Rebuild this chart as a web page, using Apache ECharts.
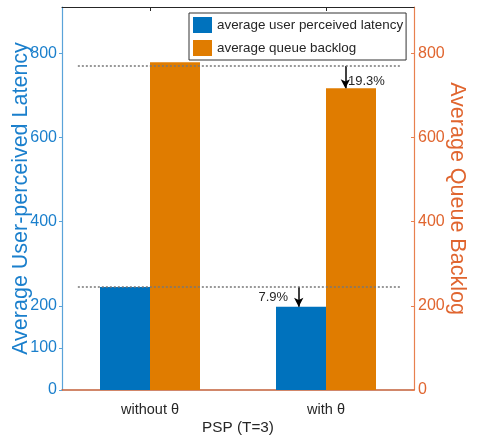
<!DOCTYPE html>
<html><head><meta charset="utf-8">
<script src="https://cdn.jsdelivr.net/npm/echarts@6/dist/echarts.min.js"></script>
<style>html,body{margin:0;padding:0;background:#fff}#c{width:479px;height:439px}</style>
</head><body><div id="c"></div>
<script>
// ---- data ----
const categories = ['without θ', 'with θ'];
const seriesNames = ['average user perceived latency', 'average queue backlog'];
const latency = [245, 198];
const backlog = [779, 717];
const leftTicks = [0, 100, 200, 400, 600, 800];
const rightTicks = [0, 200, 400, 600, 800];
const axisMax = 910;
// reference (dotted) levels and their span in category units
const refLatency = 245;
const refBacklog = 770;
const refSpan = [-0.41, 1.42];
// reduction arrows: [x in category units, from, to]
const arrowLatency = [0.845, 245, 198];
const arrowBacklog = [1.11, 770, 717];
// annotation labels: [x, y, text]
const noteLatency = [0.785, 219, '7.9%'];
const noteBacklog = [1.125, 732, '19.3%'];

const FONT = '"Liberation Sans", Arial, Helvetica, sans-serif';
const BLUE = '#0072BD', ORANGE = '#E07C00';
const BLUE_TXT = '#1a7fcc', ORANGE_TXT = '#e0652f';

const chart = echarts.init(document.getElementById('c'), null, {renderer: 'canvas'});
chart.setOption({
  backgroundColor: '#fff',
  animation: false,
  textStyle: {fontFamily: FONT},
  grid: {left: 62, right: 65, top: 7, bottom: 49, containLabel: false, outerBoundsMode: 'none'},
  legend: {
    data: seriesNames, orient: 'vertical', left: 189, top: 13,
    itemWidth: 19, itemHeight: 16, itemGap: 7, icon: 'rect',
    padding: [4, 3, 4, 4],
    borderColor: '#333', borderWidth: 1, backgroundColor: '#fff',
    textStyle: {fontSize: 13.4, color: '#262626', fontFamily: FONT}
  },
  xAxis: [
    {type: 'category', data: categories, position: 'bottom',
     axisLine: {onZero: false, lineStyle: {color: '#c2603a', width: 1.5}},
     axisTick: {show: false},
     axisLabel: {fontSize: 14.5, color: '#262626', margin: 12, fontFamily: FONT},
     name: 'PSP (T=3)', nameLocation: 'middle', nameGap: 30.5, nameMoveOverlap: false,
     nameTextStyle: {fontSize: 15.3, color: '#262626', fontFamily: FONT}},
    {type: 'category', data: categories, position: 'top',
     axisLine: {onZero: false, lineStyle: {color: '#262626', width: 1}},
     axisTick: {show: true, inside: true, length: 4, alignWithLabel: true, lineStyle: {color: '#262626'}},
     axisLabel: {show: false}},
    {type: 'value', min: -0.5, max: 1.5, show: false}
  ],
  yAxis: [
    {type: 'value', position: 'left', min: 0, max: axisMax,
     axisLine: {show: true, onZero: false, lineStyle: {color: '#5aa3d9', width: 1.2}},
     axisTick: {show: true, customValues: leftTicks, length: 3, lineStyle: {color: '#5aa3d9'}},
     axisLabel: {customValues: leftTicks, fontSize: 16, color: BLUE_TXT, margin: 5, fontFamily: FONT},
     splitLine: {show: false},
     name: 'Average User-perceived Latency', nameLocation: 'middle', nameGap: 29.5, nameRotate: 90,
     nameMoveOverlap: false,
     nameTextStyle: {fontSize: 21.5, color: BLUE_TXT, fontFamily: FONT}},
    {type: 'value', position: 'right', min: 0, max: axisMax,
     axisLine: {show: true, onZero: false, lineStyle: {color: '#e8804f', width: 1.2}},
     axisTick: {show: true, inside: true, customValues: rightTicks, length: 3, lineStyle: {color: '#e8804f'}},
     axisLabel: {customValues: rightTicks, fontSize: 16, color: ORANGE_TXT, margin: 4, fontFamily: FONT},
     splitLine: {show: false},
     name: 'Average Queue Backlog', nameLocation: 'middle', nameGap: 31.5, nameRotate: -90,
     nameMoveOverlap: false,
     nameTextStyle: {fontSize: 21.5, color: ORANGE_TXT, fontFamily: FONT}}
  ],
  series: [
    {name: seriesNames[0], type: 'bar', xAxisIndex: 0, yAxisIndex: 0, data: latency,
     barWidth: 50, barGap: '0%', itemStyle: {color: BLUE}, z: 2},
    {name: seriesNames[1], type: 'bar', xAxisIndex: 0, yAxisIndex: 1, data: backlog,
     barWidth: 50, barGap: '0%', itemStyle: {color: ORANGE}, z: 2},
    {name: 'refLatency', type: 'line', xAxisIndex: 2, yAxisIndex: 0, z: 5,
     data: [[refSpan[0], refLatency], [refSpan[1], refLatency]],
     symbol: 'none', lineStyle: {type: [2, 2], color: '#777', width: 1.5},
     markLine: {silent: true, symbol: ['none', 'arrow'], symbolSize: [7, 9],
       lineStyle: {type: 'solid', color: '#000', width: 1.5}, label: {show: false},
       data: [[{coord: [arrowLatency[0], arrowLatency[1]]}, {coord: [arrowLatency[0], arrowLatency[2]]}]]},
     markPoint: {symbolSize: 0, label: {show: true, position: 'left', distance: 0, fontSize: 13, color: '#262626',
       formatter: p => p.name, fontFamily: FONT},
       data: [{name: noteLatency[2], coord: [noteLatency[0], noteLatency[1]]}]}},
    {name: 'refBacklog', type: 'line', xAxisIndex: 2, yAxisIndex: 1, z: 5,
     data: [[refSpan[0], refBacklog], [refSpan[1], refBacklog]],
     symbol: 'none', lineStyle: {type: [2, 2], color: '#777', width: 1.5},
     markLine: {silent: true, symbol: ['none', 'arrow'], symbolSize: [7, 9],
       lineStyle: {type: 'solid', color: '#000', width: 1.5}, label: {show: false},
       data: [[{coord: [arrowBacklog[0], arrowBacklog[1]]}, {coord: [arrowBacklog[0], arrowBacklog[2]]}]]},
     markPoint: {symbolSize: 0, label: {show: true, position: 'right', distance: 0, fontSize: 13, color: '#262626',
       formatter: p => p.name, fontFamily: FONT},
       data: [{name: noteBacklog[2], coord: [noteBacklog[0], noteBacklog[1]]}]}}
  ]
});
</script></body></html>
